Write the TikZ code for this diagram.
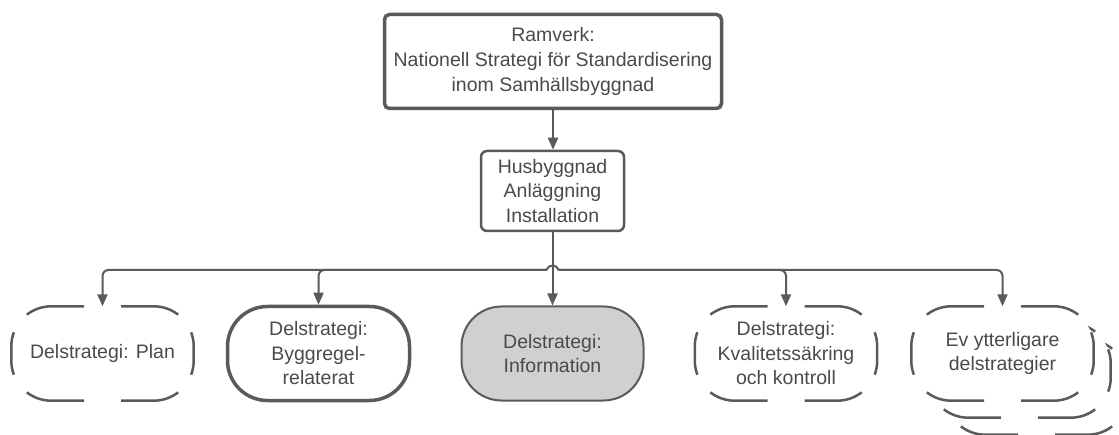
\documentclass[tikz,border=0pt]{standalone}
\usepackage{fontspec}
\setmainfont{Liberation Sans}
\usetikzlibrary{arrows.meta,calc}
\definecolor{ln}{HTML}{5A5A5A}
\definecolor{tx}{HTML}{4A4A4A}
\definecolor{gf}{HTML}{D0D0D0}
\newcommand\dashoutline[1]{%
 \draw[dashout] ($(#1.north)+(18.5,0)$) -- ($(#1.north east)+(-40,0)$) arc[start angle=90,end angle=52.3,radius=40];
 \draw[dashout] ($(#1.north east)+(-40,-40)+(20.5:40)$) arc[start angle=20.5,end angle=0,radius=40] -- ($(#1.south east)+(0,40)$) arc[start angle=0,end angle=-20.5,radius=40];
 \draw[dashout] ($(#1.south east)+(-40,40)+(-52.3:40)$) arc[start angle=-52.3,end angle=-90,radius=40] -- ($(#1.south)+(18.5,0)$);
 \draw[dashout] ($(#1.south)+(-18.5,0)$) -- ($(#1.south west)+(40,0)$) arc[start angle=270,end angle=232.3,radius=40];
 \draw[dashout] ($(#1.south west)+(40,40)+(200.5:40)$) arc[start angle=200.5,end angle=180,radius=40] -- ($(#1.north west)+(0,-40)$) arc[start angle=180,end angle=159.5,radius=40];
 \draw[dashout] ($(#1.north west)+(40,-40)+(127.7:40)$) arc[start angle=127.7,end angle=90,radius=40] -- ($(#1.north)+(-18.5,0)$);
}
\begin{document}
\begin{tikzpicture}[x=1pt,y=1pt,
 every node/.style={font=\fontsize{19.5}{24.5}\selectfont, text=tx, align=center, inner sep=0pt},
 stad/.style={rectangle, minimum width=182pt, minimum height=94pt},
 conn/.style={draw=ln, line width=2pt, -{Triangle[length=12pt,width=10pt]}},
 wire/.style={draw=ln, line width=2pt},
 dashout/.style={draw=ln, line width=2.5pt},
]
\useasboundingbox (0,0) rectangle (1119,434);

\node[draw=ln, line width=3.5pt, rounded corners=5pt, minimum width=337pt, minimum height=94pt, font=\fontsize{19.5}{25}\selectfont] (fw) at (553,372.5)
  {Ramverk:\\Nationell Strategi för Standardisering\\inom Samhällsbyggnad};
\node[draw=ln, line width=2.5pt, rounded corners=6pt, minimum width=143pt, minimum height=80pt] (mid) at (552.5,243)
  {Husbyggnad\\Anläggning\\Installation};

\node[stad] (plan) at (102.5,80.5) {Delstrategi: Plan};
\dashoutline{plan}
\node[stad, draw=ln, line width=3.5pt, rounded corners=40pt] (bygg) at (318.5,80.5) {Delstrategi:\\Byggregel-\\relaterat};
\node[stad, draw=ln, fill=gf, line width=2pt, rounded corners=40pt] (info) at (552.5,80.5) {Delstrategi:\\Information};
\node[stad] (kv) at (786,80.5) {Delstrategi:\\Kvalitetssäkring\\och kontroll};
\dashoutline{kv}

\begin{scope}
\clip (0,0) rectangle (1119,434);
\node[stad, fill=white, rounded corners=40pt] (ev3) at (1036.5,46.5) {};
\dashoutline{ev3}
\node[stad, fill=white, rounded corners=40pt] (ev2) at (1019.5,63.5) {};
\dashoutline{ev2}
\end{scope}
\node[stad, fill=white, rounded corners=40pt] (ev) at (1002.5,80.5) {Ev ytterligare\\delstrategier};
\dashoutline{ev}

\coordinate (hopL) at (546.5,164);
\coordinate (hopR) at (558.5,164);
\draw[conn] (fw.south) -- (fw.south |- mid.north);
\draw[conn] (mid.south) -- (info.north);
\draw[wire] (hopL) .. controls (548,170) and (557,170) .. (hopR);
\draw[conn, rounded corners=6pt] (hopL) -| (plan.north);
\draw[conn, rounded corners=6pt] (hopL) -| (bygg.north);
\draw[conn, rounded corners=6pt] (hopR) -| (kv.north);
\draw[conn, rounded corners=6pt] (hopR) -| (ev.north);
\end{tikzpicture}
\end{document}
